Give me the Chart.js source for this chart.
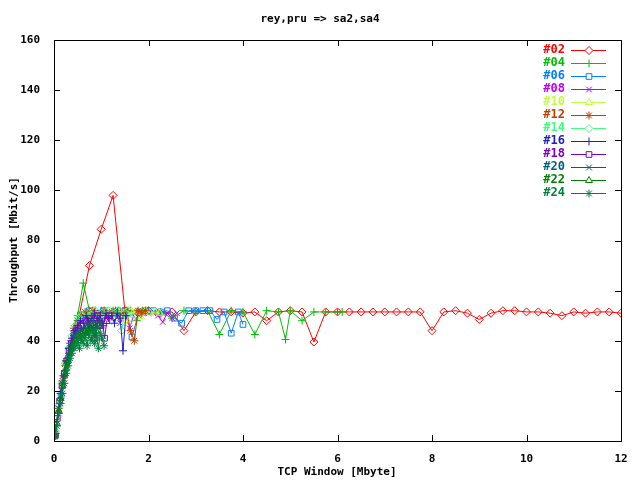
<!DOCTYPE html>
<html><head><meta charset="utf-8">
<script src="https://cdn.jsdelivr.net/npm/chart.js@4"></script>
<style>html,body{margin:0;padding:0;background:#fff}#w{width:640px;height:480px}</style>
</head><body><div id="w"><canvas id="c"></canvas></div>
<script>
const names=['#02','#04','#06','#08','#10','#12','#14','#16','#18','#20','#22','#24'];
const colors=['#ff0000','#00c000','#0080ff','#c000ff','#c0ff40','#c04000','#40ff80','#2020c0','#8000c0','#006080','#008000','#008040'];
const styles=['rectRot','cross','rect','crossRot','triangle','star','rectRot','cross','rect','crossRot','triangle','star'];
const xTicks=[0,2,4,6,8,10,12];
const yTicks=[0,20,40,60,80,100,120,140,160];
const s02=[[0.03,3],[0.25,30],[0.5,47],[0.75,70],[1.0,84.5],[1.25,98],[1.5,52],[1.75,51.5],[2.0,52],[2.25,51],[2.5,51.5],[2.75,44],[3.0,51.5],[3.25,52],[3.5,51.5],[3.75,51.5],[4.0,51],[4.25,51.5],[4.5,48],[4.75,51.5],[5.0,52],[5.25,51.5],[5.5,39.5],[5.75,51.5],[6.0,51.5],[6.25,51.5],[6.5,51.5],[6.75,51.5],[7.0,51.5],[7.25,51.5],[7.5,51.5],[7.75,51.5],[8.0,44],[8.25,51.5],[8.5,52],[8.75,51],[9.0,48.5],[9.25,51],[9.5,52],[9.75,52],[10.0,51.5],[10.25,51.5],[10.5,51],[10.75,50],[11.0,51.5],[11.25,51],[11.5,51.5],[11.75,51.5],[12.0,51]];
const s04=[[0.02,2],[0.12,15],[0.25,30],[0.37,40],[0.5,50],[0.62,63],[0.75,52],[0.87,52],[1.0,52],[1.12,51.5],[1.25,52],[1.37,52],[1.5,51.5],[1.62,52],[1.75,48],[1.87,52],[2.0,52],[2.25,51.5],[2.5,49],[2.75,52],[3.0,51.5],[3.25,52],[3.5,42.5],[3.75,52],[4.0,51.5],[4.25,42.5],[4.5,52],[4.75,51.5],[4.9,40.5],[5.0,52],[5.25,48],[5.5,51.5],[5.75,51.5],[6.0,51.5],[6.1,51.5]];
const s06=[[0.03,3],[0.15,18],[0.3,33],[0.45,42],[0.6,50],[0.75,52],[0.9,51],[1.05,52],[1.2,50],[1.35,52],[1.5,52],[1.65,41.5],[1.8,51.5],[1.95,52],[2.1,52],[2.25,51.5],[2.4,52],[2.55,49],[2.7,47],[2.85,52],[3.0,52],[3.15,52],[3.3,52],[3.45,48.5],[3.6,51.5],[3.75,43],[3.9,51.5],[4.0,46.5]];
const s08=[[0.03,3],[0.1,12],[0.2,26],[0.3,36],[0.4,43],[0.5,47],[0.6,50],[0.7,48],[0.8,51],[0.9,46],[1.0,50],[1.1,51],[1.2,49],[1.3,51.5],[1.4,47],[1.5,51],[1.6,45],[1.7,51],[1.8,50],[1.9,51],[2.0,51],[2.1,51],[2.2,50],[2.3,47.5],[2.4,51],[2.5,49],[2.6,51]];
const s10=[[0.04,4],[0.14,17],[0.24,29],[0.34,38],[0.44,44],[0.54,49],[0.64,51],[0.74,50],[0.84,52],[0.94,49],[1.04,51],[1.14,52],[1.24,50],[1.34,52],[1.44,51],[1.54,47],[1.64,52],[1.74,51.5],[1.84,49.5],[1.94,52],[2.04,51],[2.14,51.5],[2.24,51]];
const s12=[[0.02,2],[0.1,13],[0.18,24],[0.26,32],[0.34,39],[0.42,45],[0.5,48],[0.58,50],[0.66,51.5],[0.74,49],[0.82,52],[0.9,50],[0.98,51],[1.06,52],[1.14,50],[1.22,51.5],[1.3,52],[1.38,50],[1.46,51],[1.54,52],[1.62,44],[1.7,40],[1.78,52],[1.86,51],[1.94,52]];
const s14=[[0.03,4],[0.1,14],[0.17,23],[0.24,31],[0.31,37],[0.38,42],[0.45,46],[0.52,49],[0.59,50],[0.66,48],[0.73,51],[0.8,50],[0.87,52],[0.94,47],[1.01,51],[1.08,50],[1.15,52],[1.22,48],[1.29,51],[1.36,52],[1.43,44],[1.5,51],[1.57,52],[1.64,49]];
const s16=[[0.02,3],[0.08,11],[0.14,19],[0.2,26],[0.26,32],[0.32,37],[0.38,41],[0.44,44],[0.5,46],[0.56,48],[0.62,47],[0.68,50],[0.74,45],[0.8,49],[0.86,51],[0.92,48],[0.98,50],[1.04,46],[1.1,51],[1.16,49],[1.22,50],[1.28,47],[1.34,51],[1.4,49],[1.46,36],[1.52,50]];
const s18=[[0.02,2],[0.07,9],[0.12,16],[0.17,22],[0.22,27],[0.27,32],[0.32,36],[0.37,39],[0.42,42],[0.47,44],[0.52,45],[0.57,46],[0.62,44],[0.67,48],[0.72,45],[0.77,49],[0.82,47],[0.87,41],[0.92,50],[0.97,46],[1.02,49],[1.07,41],[1.12,48],[1.17,50]];
const s20=[[0.02,2],[0.06,8],[0.1,13],[0.14,18],[0.18,23],[0.22,27],[0.26,31],[0.3,34],[0.34,37],[0.38,39],[0.42,41],[0.46,43],[0.5,44],[0.54,42],[0.58,45],[0.62,43],[0.66,46],[0.7,44],[0.74,47],[0.78,45],[0.82,48],[0.86,44],[0.9,47],[0.94,45],[0.98,48],[1.02,46]];
const s22=[[0.02,2],[0.06,7],[0.1,12],[0.14,17],[0.18,22],[0.22,26],[0.26,29],[0.3,32],[0.34,35],[0.38,37],[0.42,39],[0.46,40],[0.5,42],[0.54,40],[0.58,43],[0.62,41],[0.66,44],[0.7,42],[0.74,45],[0.78,43],[0.82,46],[0.86,41],[0.9,44],[0.94,46]];
const s24=[[0.02,2],[0.06,6],[0.1,11],[0.14,15],[0.18,19],[0.22,23],[0.26,27],[0.3,30],[0.34,33],[0.38,35],[0.42,37],[0.46,38],[0.5,40],[0.54,37],[0.58,41],[0.62,39],[0.66,42],[0.7,38],[0.74,43],[0.78,40],[0.82,44],[0.86,39],[0.9,42],[0.94,37],[0.98,43],[1.02,41],[1.06,38]];
const series=[s02,s04,s06,s08,s10,s12,s14,s16,s18,s20,s22,s24];

const FONT='"DejaVu Sans Mono", monospace';
const datasets=series.map((s,i)=>({
  label:names[i], data:s.map(p=>({x:p[0],y:p[1]})),
  borderColor:colors[i], borderWidth:1, pointStyle:styles[i], pointRadius:4,
  pointBorderColor:colors[i], pointBackgroundColor:'rgba(0,0,0,0)', pointBorderWidth:1,
  order:12-i, tension:0
}));

const deco={id:'deco',afterDraw(ch){
  const ctx=ch.ctx,a=ch.chartArea,xs=ch.scales.x,ys=ch.scales.y;
  ctx.save();
  ctx.strokeStyle='#000';ctx.lineWidth=1;
  ctx.strokeRect(a.left+0.5,a.top+0.5,a.right-a.left,a.bottom-a.top);
  ctx.beginPath();
  xTicks.forEach(v=>{const x=Math.round(xs.getPixelForValue(v))+0.5;ctx.moveTo(x,a.bottom);ctx.lineTo(x,a.bottom-6);ctx.moveTo(x,a.top);ctx.lineTo(x,a.top+6);});
  yTicks.forEach(v=>{const y=Math.round(ys.getPixelForValue(v))+0.5;ctx.moveTo(a.left,y);ctx.lineTo(a.left+6,y);ctx.moveTo(a.right,y);ctx.lineTo(a.right-6,y);});
  ctx.stroke();
  ctx.fillStyle='#000';ctx.font='bold 11px '+FONT;ctx.textAlign='center';ctx.textBaseline='middle';
  ctx.fillText('rey,pru => sa2,sa4',320,19);
  ctx.fillText('TCP Window [Mbyte]',337,472);
  ctx.save();ctx.translate(14,240);ctx.rotate(-Math.PI/2);ctx.fillText('Throughput [Mbit/s]',0,0);ctx.restore();
  names.forEach((n,i)=>{
    const y=50+i*13;
    ctx.font='bold 12px '+FONT;ctx.textAlign='right';ctx.fillStyle=colors[i];
    ctx.fillText(n,565,y);
    ctx.strokeStyle=colors[i];ctx.lineWidth=1;
    ctx.beginPath();ctx.moveTo(571,y+0.5);ctx.lineTo(606,y+0.5);ctx.stroke();
    ctx.fillStyle='#ffffff';
    Chart.helpers.drawPoint(ctx,{pointStyle:styles[i],radius:4,borderWidth:1},589,y+0.5);
  });
  ctx.restore();
}};

new Chart(document.getElementById('c'),{
  type:'line', data:{datasets},
  options:{responsive:true,maintainAspectRatio:false,animation:false,
    layout:{padding:{top:40,right:19,left:0,bottom:0}},
    plugins:{legend:{display:false},tooltip:{enabled:false},title:{display:false}},
    scales:{
      x:{type:'linear',min:0,max:12,grid:{display:false},border:{display:false},
        afterFit(s){s.height=39;},
        afterBuildTicks(s){s.ticks=xTicks.map(v=>({value:v}));},
        ticks:{color:'#000',font:{family:FONT,size:11,weight:'bold'},maxRotation:0,padding:4}},
      y:{type:'linear',min:0,max:160,grid:{display:false},border:{display:false},
        afterFit(s){s.width=54;},
        afterBuildTicks(s){s.ticks=yTicks.map(v=>({value:v}));},
        ticks:{color:'#000',font:{family:FONT,size:11,weight:'bold'},padding:6}}
    }},
  plugins:[deco]
});
</script></body></html>
